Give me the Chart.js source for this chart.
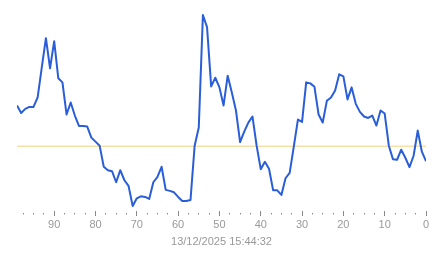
<!DOCTYPE html>
<html>
<head>
<meta charset="utf-8">
<script src="https://cdn.jsdelivr.net/npm/chart.js@4/dist/chart.umd.min.js"></script>
<style>
html,body{margin:0;padding:0;background:#fff;}
canvas{display:block;}
</style>
</head>
<body>
<canvas id="c" width="443" height="258"></canvas>
<script>
// x positions (seconds ago), oldest to newest
const ages = [99,98,97,96,95,94,93,92,91,90,89,88,87,86,85,84,83,82,81,80,
  79,78,77,76,75,74,73,72,71,70,69,68,67,66,65,64,63,62,61,60,
  59,58,57,56,55,54,53,52,51,50,49,48,47,46,45,44,43,42,41,40,
  39,38,37,36,35,34,33,32,31,30,29,28,27,26,25,24,23,22,21,20,
  19,18,17,16,15,14,13,12,11,10,9,8,7,6,5,4,3,2,1,0];
const values = [52.5,48.8,50.8,51.8,51.8,56.5,71.5,86,71,84.5,66,64,48,54,47.5,42.3,42.3,42,36.5,34.5,
  32.5,22,20.3,19.8,14.3,20.3,15.3,12.5,2.5,6.3,7.3,7,6,14.3,17,22,10.5,10,9.3,7,
  5,5,5.5,32.5,41.5,97.5,91.5,62,66.3,61.5,52.5,67.3,59,50,34.3,39.5,44,47,32.5,20.8,
  24.5,21,10.3,10.3,8,16.3,19,32,45.5,44.3,64,63.5,61.8,48,44,54.8,56.5,60,68,67,
  55.5,61.5,53.3,49.3,47,46.3,47.5,42.5,50,48.5,32.5,25.8,25.5,30.5,26.5,21.8,27.5,40,29.5,24.8];
const referenceLevel = 32.25;
const timestamp = "13/12/2025 15:44:32";

const lineData = ages.map((a, i) => ({x: a, y: values[i]}));
const refData = [{x: ages[0], y: referenceLevel}, {x: ages[ages.length - 1], y: referenceLevel}];

const font = {family: "'Liberation Sans', Arial, sans-serif", size: 11};

new Chart(document.getElementById('c'), {
  type: 'line',
  data: {
    datasets: [
      {data: refData, borderColor: '#f2d27a', borderWidth: 1, pointRadius: 0, tension: 0, order: 2},
      {data: lineData, borderColor: '#2a5ed8', borderWidth: 2, pointRadius: 0, tension: 0, order: 1,
       borderJoinStyle: 'round'}
    ]
  },
  options: {
    responsive: false,
    animation: false,
    devicePixelRatio: 1,
    layout: {padding: {left: 17, right: 17, top: 10, bottom: 5.6}},
    plugins: {legend: {display: false}, tooltip: {enabled: false}},
    scales: {
      y: {display: false, min: 0, max: 100},
      x: {
        type: 'linear', reverse: true, min: 0, max: 99,
        border: {display: false},
        grid: {
          drawOnChartArea: false,
          tickLength: 5,
          tickColor: '#888',
          tickWidth: 1,
          tickBorderDash: (ctx) => (ctx.tick && ctx.tick.value % 10 === 0) ? [] : [0, 2, 1.5, 10]
        },
        ticks: {
          stepSize: 2.5, includeBounds: false, autoSkip: false, maxRotation: 0,
          padding: 2, color: '#999', font: font,
          callback: (v) => (v % 10 === 0 ? String(v) : '')
        },
        title: {display: true, text: timestamp, color: '#999', font: font, padding: {top: 2, bottom: 4}}
      }
    }
  }
});
</script>
</body>
</html>
